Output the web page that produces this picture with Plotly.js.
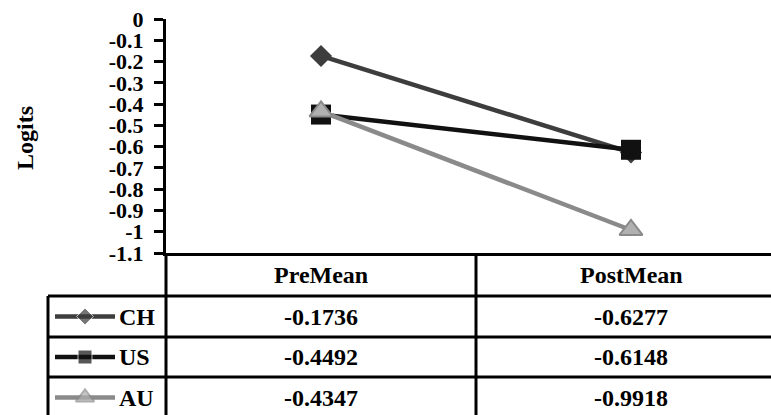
<!DOCTYPE html>
<html><head><meta charset="utf-8">
<script src="https://cdn.plot.ly/plotly-3.0.1.min.js"></script>
<style>html,body{margin:0;padding:0;background:#fff}#chart{width:771px;height:415px}</style>
</head><body><div id="chart"></div>
<script>
// ---- data ----
const categories = ['PreMean', 'PostMean'];
const seriesNames = ['CH', 'US', 'AU'];
const CH = [-0.1736, -0.6277];
const US = [-0.4492, -0.6148];
const AU = [-0.4347, -0.9918];
const yTickVals = [0, -0.1, -0.2, -0.3, -0.4, -0.5, -0.6, -0.7, -0.8, -0.9, -1, -1.1];
const yTickText = ['0', '-0.1', '-0.2', '-0.3', '-0.4', '-0.5', '-0.6', '-0.7', '-0.8', '-0.9', '-1', '-1.1'];
const yTitle = 'Logits';

// ---- layout helpers (pixels -> paper) ----
const W = 771, H = 415;
const px = x => x / W;
const py = y => (H - y) / H;
const FONT = 'Liberation Serif, Times New Roman, serif';
const plotL = 166, plotT = 19, plotB = 253;
const catStep = 310;
const rowTops = [253, 296, 337, 377, 418];
const rowMid = i => (rowTops[i] + rowTops[i + 1]) / 2;
const keyL = 48;

const styles = [
  {line: {color: '#3d3d3d', width: 4.5}, marker: {symbol: 'diamond', size: 17, color: '#3d3d3d'}, key: 13},
  {line: {color: '#111111', width: 4.5}, marker: {symbol: 'square', size: 20, color: '#111111'}, key: 14},
  {line: {color: '#8a8a8a', width: 4.5}, marker: {symbol: 'triangle-up', size: 20, color: '#b0b0b0', line: {color: '#8a8a8a', width: 2}}, key: 16}
];
const values = [CH, US, AU];

const traces = [];
values.forEach((v, i) => {
  traces.push({
    type: 'scatter', mode: 'lines+markers', x: categories, y: v, name: seriesNames[i],
    line: styles[i].line, marker: styles[i].marker, cliponaxis: false, hoverinfo: 'skip'
  });
});
// legend keys inside the data table
values.forEach((v, i) => {
  const yk = rowMid(i + 1);
  const m = Object.assign({}, styles[i].marker);
  m.size = [0, styles[i].key, 0];
  traces.push({
    type: 'scatter', mode: 'lines+markers', xaxis: 'x2', yaxis: 'y2',
    x: [55, 85, 115], y: [yk, yk, yk],
    line: styles[i].line, marker: m, cliponaxis: false, hoverinfo: 'skip'
  });
});

const shapes = [];
const L = (x0, y0, x1, y1, xref) => shapes.push({type: 'line', xref: xref || 'paper', yref: 'paper',
  x0: x0, y0: y0, x1: x1, y1: y1, line: {color: '#000', width: 3}});
[296, 337, 377].forEach(y => L(px(keyL), py(y), 1, py(y)));
L(px(plotL), py(plotB), px(plotL), 0);
L(0.5, py(plotB), 0.5, 0, 'x');
L(px(keyL), py(296), px(keyL), 0);

const annotations = [];
const bold = (size) => ({family: FONT, size: size, color: '#000', weight: 700});
categories.forEach((c, j) => {
  annotations.push({xref: 'x', yref: 'paper', x: c, y: py(rowMid(0)), text: c, showarrow: false,
    font: bold(24), xanchor: 'center', yanchor: 'middle'});
  values.forEach((v, i) => {
    annotations.push({xref: 'x', yref: 'paper', x: c, y: py(rowMid(i + 1)), text: v[j].toFixed(4),
      showarrow: false, font: bold(24), xanchor: 'center', yanchor: 'middle'});
  });
});
seriesNames.forEach((s, i) => {
  annotations.push({xref: 'paper', yref: 'paper', x: px(117), y: py(rowMid(i + 1)), text: s,
    showarrow: false, font: bold(24), xanchor: 'left', yanchor: 'middle'});
});
annotations.push({xref: 'paper', yref: 'paper', x: px(25), y: py(138), text: yTitle, textangle: -90,
  showarrow: false, font: bold(24), xanchor: 'center', yanchor: 'middle'});

const layout = {
  width: W, height: H,
  margin: {l: 0, r: 0, t: 0, b: 0, pad: 0},
  paper_bgcolor: '#fff', plot_bgcolor: 'rgba(0,0,0,0)',
  showlegend: false,
  xaxis: {type: 'category', domain: [px(plotL), 1], range: [-0.5, -0.5 + (W - plotL) / catStep],
    showline: true, linecolor: '#000', linewidth: 3, showticklabels: false, ticks: '',
    showgrid: false, zeroline: false, fixedrange: true, anchor: 'y'},
  yaxis: {domain: [py(plotB), py(plotT)], range: [-1.1, 0], tickvals: yTickVals, ticktext: yTickText,
    showline: true, linecolor: '#000', linewidth: 3, ticks: 'outside', ticklen: 9, tickwidth: 3,
    ticklabelstandoff: 6,
    tickcolor: '#000', tickfont: bold(22), showgrid: false, zeroline: false, fixedrange: true, anchor: 'x'},
  xaxis2: {domain: [px(keyL), px(plotL)], range: [keyL, plotL], visible: false, anchor: 'y2', fixedrange: true},
  yaxis2: {domain: [0, py(296)], range: [H, 296], visible: false, anchor: 'x2', fixedrange: true},
  shapes: shapes, annotations: annotations
};
Plotly.newPlot('chart', traces, layout, {staticPlot: true, displayModeBar: false});
</script></body></html>
